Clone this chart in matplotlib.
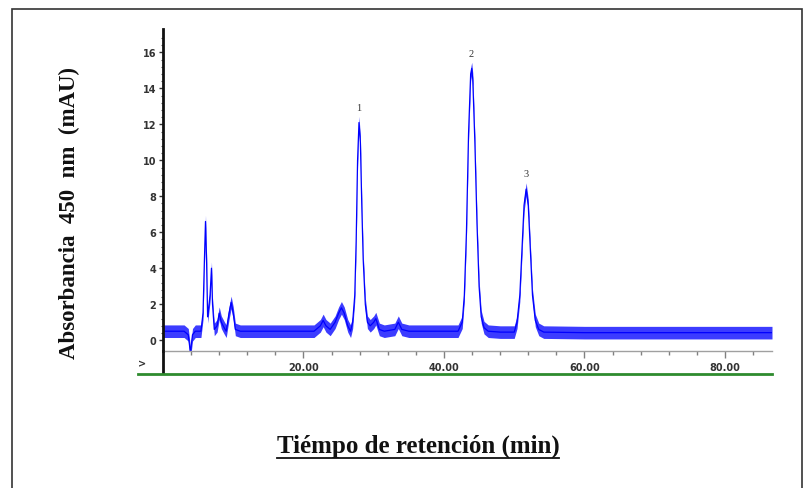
import matplotlib
matplotlib.use("Agg")
import matplotlib.pyplot as plt
from matplotlib.lines import Line2D
from matplotlib.patches import Rectangle
import numpy as np

# chromatogram trace (min, mAU)
tiempo = [0.0, 1.5, 3.0, 3.6, 3.9, 4.2, 4.6, 5.4, 5.7, 5.9, 6.05, 6.2, 6.35, 6.5,
          6.7, 6.9, 7.05, 7.3, 7.7, 8.0, 8.3, 8.7, 9.0, 9.4, 9.7, 10.0, 10.3,
          11.0, 15.0, 19.0, 21.5, 22.4, 22.8, 23.2, 23.8, 24.5, 25.0, 25.4,
          25.8, 26.3, 26.7, 27.0, 27.3, 27.5, 27.7, 27.9, 28.1, 28.3, 28.5,
          28.8, 29.1, 29.5, 30.0, 30.3, 30.8, 31.5, 33.0, 33.5, 34.0, 35.0,
          38.0, 42.0, 42.6, 42.9, 43.2, 43.5, 43.8, 43.95, 44.1, 44.4, 44.7,
          45.0, 45.3, 45.7, 46.3, 48.0, 50.0, 50.4, 50.8, 51.1, 51.4, 51.7,
          52.0, 52.3, 52.6, 53.0, 53.5, 54.2, 60.0, 70.0, 80.0, 86.7]
absorb = [0.5, 0.5, 0.5, 0.3, -0.7, 0.3, 0.5, 0.5, 1.5, 4.5, 6.6, 4.5, 1.3, 1.8,
          2.5, 4.0, 2.0, 0.6, 0.8, 1.5, 1.0, 0.7, 0.5, 1.5, 2.1, 1.5, 0.6,
          0.5, 0.5, 0.5, 0.5, 0.8, 1.1, 0.8, 0.6, 1.0, 1.5, 1.8,
          1.5, 0.8, 0.5, 1.0, 2.5, 5.5, 10.0, 12.1, 11.0, 7.5, 4.5,
          2.0, 1.0, 0.8, 1.0, 1.2, 0.6, 0.5, 0.6, 1.0, 0.6, 0.5,
          0.5, 0.5, 1.0, 2.5, 6.0, 11.5, 14.8, 15.1, 14.5, 11.0, 6.5,
          3.0, 1.3, 0.7, 0.5, 0.45, 0.45, 1.0, 2.5, 5.0, 7.5, 8.4,
          7.5, 5.0, 2.5, 1.1, 0.6, 0.45, 0.42, 0.42, 0.42, 0.42]
ruido = 0.35  # half width of the noise band

picos_t = [27.9, 43.9, 51.7]
picos_y = [12.1, 15.1, 8.4]
picos_lbl = ["1", "2", "3"]

xticks = [20, 40, 60, 80]
yticks = [0, 2, 4, 6, 8, 10, 12, 14, 16]

W, H = 804, 489
fig = plt.figure(figsize=(W / 100, H / 100), dpi=100)

# outer frame
fig.patches.append(Rectangle((12 / W, -0.01), (802 - 12) / W, 1 - 10 / H + 0.01,
                             transform=fig.transFigure, fill=False,
                             edgecolor="#333333", lw=1.2))

ax = fig.add_axes([163 / W, 1 - 352 / H, (772 - 163) / W, (352 - 30) / H])
t = np.array(tiempo)
a = np.array(absorb)
ax.fill_between(t, a - ruido, a + ruido, color="#1a1aff", alpha=0.85, lw=0)
ax.plot(t, a, color="#0000ff", lw=0.9)

for x, y, s in zip(picos_t, picos_y, picos_lbl):
    ax.text(x, y + 0.6, s, ha="center", va="bottom", fontsize=7.5,
            family="Liberation Serif", color="#333333")

ax.set_xlim(0, 86.7)
ax.set_ylim(-0.6, 17.3)
ax.set_xticks(xticks)
ax.set_xticklabels(["%.2f" % v for v in xticks])
ax.set_xticks(np.arange(4, 87, 4), minor=True)
ax.set_yticks(yticks)
ax.set_yticks(np.arange(0, 17.2, 0.4), minor=True)

for s in ["top", "right"]:
    ax.spines[s].set_visible(False)
ax.spines["left"].set_linewidth(2)
ax.spines["left"].set_color("#111111")
ax.spines["bottom"].set_linewidth(1)
ax.spines["bottom"].set_color("#a0a0a0")

ax.tick_params(axis="x", which="major", length=5, width=1, color="#808080",
               labelsize=7, labelcolor="#333333", pad=3)
ax.tick_params(axis="x", which="minor", length=3, width=1, color="#808080")
ax.tick_params(axis="y", which="major", length=3, width=1, color="#333333",
               labelsize=7, labelcolor="#333333", pad=2)
ax.tick_params(axis="y", which="minor", length=1.5, width=0.8, color="#555555")
for lab in ax.get_xticklabels() + ax.get_yticklabels():
    lab.set_fontweight("bold")

# y axis continues down to the green base line
fig.lines.append(Line2D([163 / W, 163 / W], [1 - 352 / H, 1 - 374 / H],
                        transform=fig.transFigure, color="#111111", lw=2))
fig.lines.append(Line2D([138 / W, 772 / W], [1 - 375 / H, 1 - 375 / H],
                        transform=fig.transFigure, color="#2e8b2e", lw=2))
fig.text(142 / W, 1 - 364 / H, ">", fontsize=7, color="#333333",
         ha="center", va="center", fontweight="bold")

fig.text(69 / W, 1 - 213 / H, "Absorbancia  450  nm  (mAU)", rotation=90,
         ha="center", va="center", fontsize=16.5, fontweight="bold",
         family="Liberation Serif", color="#111111")
xl = fig.text(418 / W, 1 - 446 / H, "Tiémpo de retención (min)",
              ha="center", va="center", fontsize=18, fontweight="bold",
              family="Liberation Serif", color="#111111")

fig.canvas.draw()
bb = xl.get_window_extent()
yline = (bb.y0 - 1) / H
fig.lines.append(Line2D([bb.x0 / W, bb.x1 / W], [yline, yline],
                        transform=fig.transFigure, color="#111111", lw=1.3))

fig.savefig("out.png", dpi=100)
